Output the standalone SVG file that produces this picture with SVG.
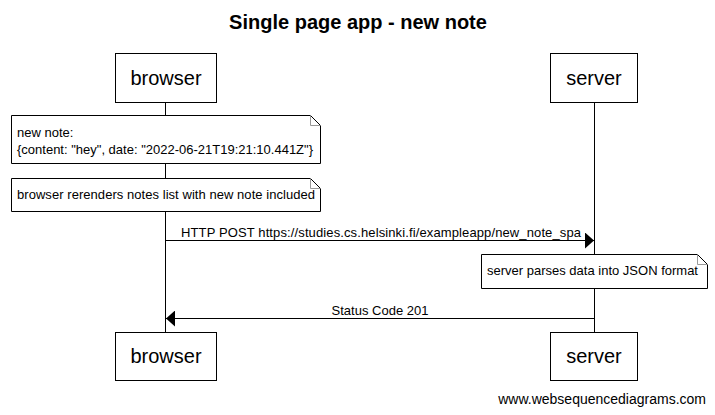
<svg xmlns="http://www.w3.org/2000/svg" width="715" height="415" viewBox="0 0 715 415">
<style>
text{font-family:"Liberation Sans",Arial,sans-serif;fill:#000}
.box{fill:#fff;stroke:#000;stroke-width:1}
.actor{font-size:20px;text-anchor:middle}
.note{fill:#fff;stroke:#000;stroke-width:1}
.fold{fill:none;stroke:#999;stroke-width:1}
.small{font-size:13px}
.life{stroke:#000;stroke-width:1}
.msg{stroke:#000;stroke-width:1;fill:none}
</style>
<defs>
<marker id="ah" markerWidth="10" markerHeight="16" refX="9" refY="8" orient="auto" markerUnits="userSpaceOnUse">
<path d="M0,0 L9,8 L0,16 Z" fill="#000"/>
</marker>
</defs>
<rect width="715" height="415" fill="#fff"/>
<text x="358" y="29" font-size="20" font-weight="bold" text-anchor="middle">Single page app - new note</text>
<g id="lifelines">
<line class="life" x1="165.5" y1="102" x2="165.5" y2="332"/>
<line class="life" x1="594.5" y1="102" x2="594.5" y2="332"/>
</g>
<g id="browser-top"><rect class="box" x="115.5" y="53.5" width="101" height="49"/><text class="actor" x="166" y="85">browser</text></g>
<g id="server-top"><rect class="box" x="550.5" y="53.5" width="87" height="49"/><text class="actor" x="594" y="85">server</text></g>
<g id="note1">
<path class="note" d="M11.5,115.5 H310.5 L320.5,125.5 V163.5 H11.5 Z"/>
<path class="fold" d="M310.5,115.5 V125.5 H320.5"/>
<text class="small" x="17" y="137">new note:</text>
<text class="small" x="17" y="154">{content: "hey", date: "2022-06-21T19:21:10.441Z"}</text>
</g>
<g id="note2">
<path class="note" d="M11.5,178.5 H310.5 L320.5,188.5 V211.5 H11.5 Z"/>
<path class="fold" d="M310.5,178.5 V188.5 H320.5"/>
<text class="small" x="17" y="199" textLength="298" lengthAdjust="spacing">browser rerenders notes list with new note included</text>
</g>
<g id="connectors">
<line class="msg" x1="165.5" y1="240.5" x2="594" y2="240.5" marker-end="url(#ah)"/>
<text class="small" x="181" y="237" textLength="400" lengthAdjust="spacing">HTTP POST https://studies.cs.helsinki.fi/exampleapp/new_note_spa</text>
<line class="msg" x1="594.5" y1="318.5" x2="166" y2="318.5" marker-end="url(#ah)"/>
<text class="small" x="380" y="315" text-anchor="middle">Status Code 201</text>
</g>
<g id="note3">
<path class="note" d="M481.5,254.5 H697.5 L707.5,264.5 V288.5 H481.5 Z"/>
<path class="fold" d="M697.5,254.5 V264.5 H707.5"/>
<text class="small" x="487" y="275">server parses data into JSON format</text>
</g>
<g id="browser-bottom"><rect class="box" x="115.5" y="332.5" width="101" height="48"/><text class="actor" x="166" y="363">browser</text></g>
<g id="server-bottom"><rect class="box" x="550.5" y="332.5" width="87" height="48"/><text class="actor" x="594" y="363">server</text></g>
<text x="706" y="404" font-size="14" text-anchor="end">www.websequencediagrams.com</text>
</svg>
